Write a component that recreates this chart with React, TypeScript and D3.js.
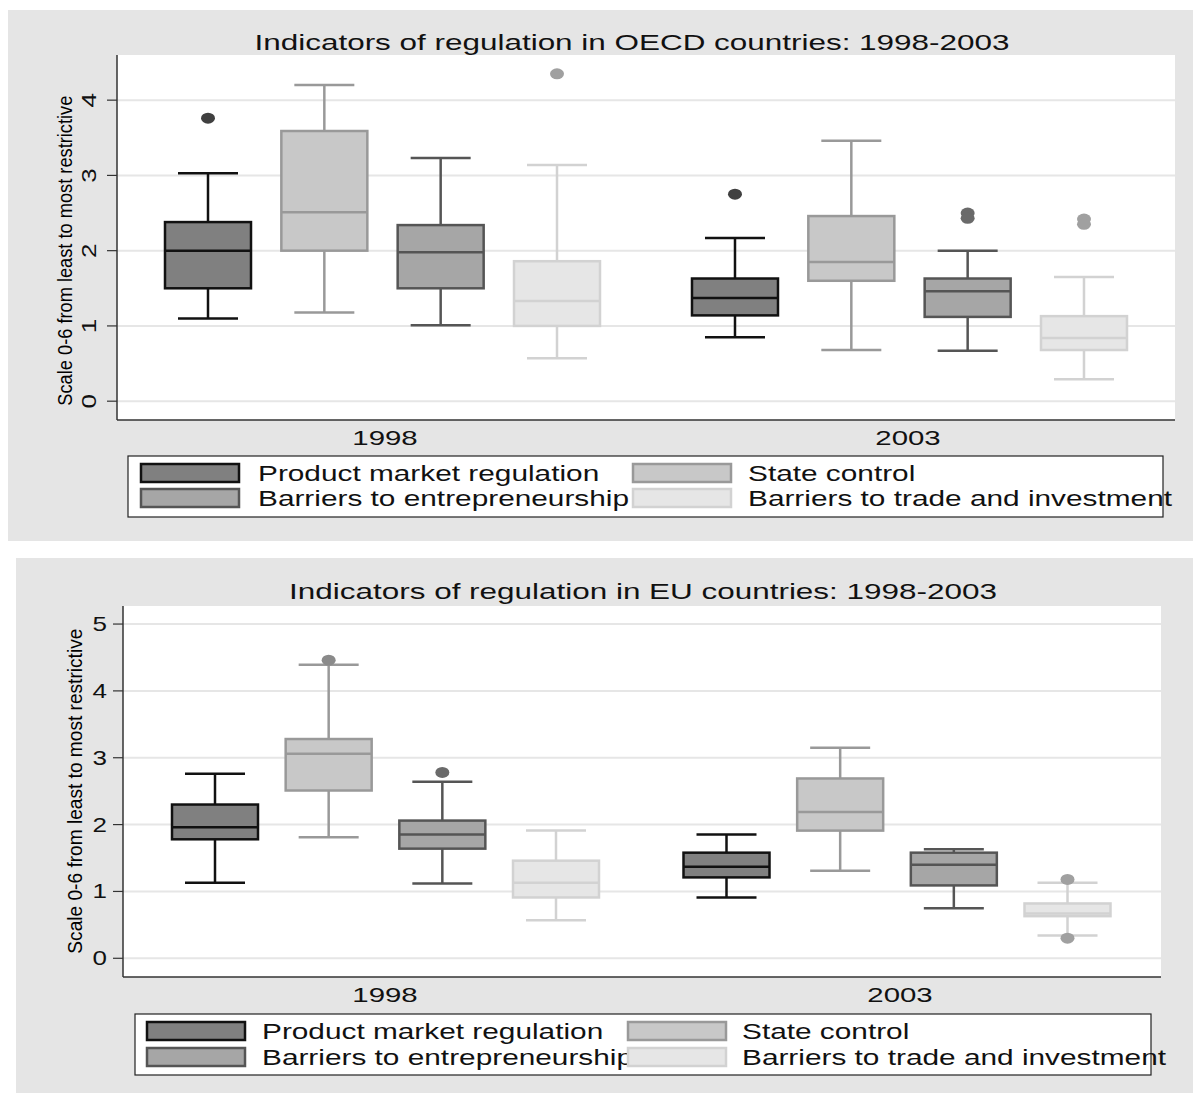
import React from "react";
import * as d3 from "d3";

const series = ["Product market regulation", "State control", "Barriers to entrepreneurship", "Barriers to trade and investment"];
const years = ["1998", "2003"];
const fills = ["#808080", "#c8c8c8", "#a6a6a6", "#e6e6e6"];
const strokes = ["#111111", "#999999", "#555555", "#d2d2d2"];
const dotColors = ["#404040", "#8a8a8a", "#6a6a6a", "#a0a0a0"];

// [low, q1, median, q3, high]
const oecd1998 = [[1.1, 1.5, 2.0, 2.38, 3.03], [1.18, 2.0, 2.51, 3.59, 4.2], [1.01, 1.5, 1.98, 2.34, 3.23], [0.57, 1.0, 1.33, 1.86, 3.14]];
const oecd2003 = [[0.85, 1.14, 1.37, 1.63, 2.17], [0.68, 1.6, 1.85, 2.46, 3.46], [0.67, 1.12, 1.46, 1.63, 2.0], [0.29, 0.68, 0.84, 1.13, 1.65]];
const oecdOut1998 = [[3.76], [], [], [4.35]];
const oecdOut2003 = [[2.75], [], [2.5, 2.43], [2.42, 2.35]];

const eu1998 = [[1.13, 1.78, 1.96, 2.3, 2.76], [1.81, 2.51, 3.06, 3.28, 4.39], [1.12, 1.64, 1.85, 2.06, 2.64], [0.57, 0.91, 1.13, 1.46, 1.91]];
const eu2003 = [[0.91, 1.21, 1.37, 1.58, 1.85], [1.31, 1.91, 2.19, 2.69, 3.15], [0.75, 1.09, 1.4, 1.58, 1.63], [0.34, 0.63, 0.67, 0.82, 1.13]];
const euOut1998 = [[], [4.46], [2.78], []];
const euOut2003 = [[], [], [], [1.18, 0.3]];

const oecdTicks = [0, 1, 2, 3, 4];
const euTicks = [0, 1, 2, 3, 4, 5];

const FONT = "'Liberation Sans', Arial, sans-serif";

function SText({ x, y, size, anchor = "start", sx = 1.4, rot = 0, children }: any) {
  return (
    <text transform={`translate(${x},${y}) rotate(${rot}) scale(${sx},1)`} textAnchor={anchor} fontSize={size} fontFamily={FONT} fill="#111">{children}</text>
  );
}

type PanelProps = {
  y0: number; y1: number; x0bg: number;
  title: string; titleY: number; titleX: number;
  left: number; right: number; top: number; bottom: number;
  domain: [number, number]; ticks: number[]; tickLabX: number; rotTicks: boolean;
  slotRange: [number, number]; gapIndex: number;
  stats: number[][][]; outs: number[][][];
  yearY: number; yearX: number[];
  legend: { x0: number; x1: number; y0: number; y1: number; sw: number[]; tx: number[]; rows: number[] };
  ylabX: number; ylabLen: number;
};

function Panel(p: PanelProps) {
  const y = d3.scaleLinear().domain(p.domain).range([p.bottom, p.top]);
  const x = d3.scaleLinear().domain([0, 3]).range(p.slotRange);
  const bw = 86, cap = 60;
  const ylabCenter = (y(0) + y(p.ticks[p.ticks.length - 1])) / 2;
  return (
    <g>
      <rect x={p.x0bg} y={p.y0} width={1193 - p.x0bg} height={p.y1 - p.y0} fill="#e5e5e5" />
      <rect x={p.left} y={p.top} width={p.right - p.left} height={p.bottom - p.top} fill="#fff" />
      <SText x={p.titleX} y={p.titleY} size={22} anchor="middle" sx={1.43}>{p.title}</SText>
      {p.ticks.map(t => (
        <g key={t}>
          <line x1={p.left} x2={p.right} y1={y(t)} y2={y(t)} stroke="#e6e6e6" strokeWidth={2} />
          <line x1={p.left - 10} x2={p.left} y1={y(t)} y2={y(t)} stroke="#333" strokeWidth={1.2} />
          {p.rotTicks
            ? <SText x={p.tickLabX} y={y(t)} size={20} anchor="middle" rot={-90} sx={1.3}>{t}</SText>
            : <SText x={p.tickLabX} y={y(t) + 7} size={20} anchor="end" sx={1.3}>{t}</SText>}
        </g>
      ))}
      <line x1={p.left} x2={p.left} y1={p.top} y2={p.bottom} stroke="#333" strokeWidth={1.5} />
      <line x1={p.left} x2={p.right} y1={p.bottom} y2={p.bottom} stroke="#333" strokeWidth={1.5} />
      <text transform={`translate(${p.ylabX},${ylabCenter}) rotate(-90)`} textAnchor="middle" fontSize={20} fontFamily={FONT}
        textLength={p.ylabLen} lengthAdjust="spacingAndGlyphs">Scale 0-6 from least to most restrictive</text>
      {p.stats.map((grp, gi) => grp.map((s, si) => {
        const cx = x(si + gi * p.gapIndex);
        const [lo, q1, md, q3, hi] = s;
        const st = strokes[si];
        return (
          <g key={`${gi}-${si}`}>
            <line x1={cx} x2={cx} y1={y(hi)} y2={y(q3)} stroke={st} strokeWidth={2.5} />
            <line x1={cx} x2={cx} y1={y(q1)} y2={y(lo)} stroke={st} strokeWidth={2.5} />
            <line x1={cx - cap / 2} x2={cx + cap / 2} y1={y(hi)} y2={y(hi)} stroke={st} strokeWidth={2.5} />
            <line x1={cx - cap / 2} x2={cx + cap / 2} y1={y(lo)} y2={y(lo)} stroke={st} strokeWidth={2.5} />
            <rect x={cx - bw / 2} y={y(q3)} width={bw} height={y(q1) - y(q3)} fill={fills[si]} stroke={st} strokeWidth={2.5} />
            <line x1={cx - bw / 2} x2={cx + bw / 2} y1={y(md)} y2={y(md)} stroke={st} strokeWidth={2.5} />
            {p.outs[gi][si].map((o, oi) => (
              <ellipse key={oi} cx={cx} cy={y(o)} rx={7} ry={5.5} fill={dotColors[si]} />
            ))}
          </g>
        );
      }))}
      {years.map((yr, i) => (
        <SText key={yr} x={p.yearX[i]} y={p.yearY} size={21} anchor="middle">{yr}</SText>
      ))}
      <rect x={p.legend.x0} y={p.legend.y0} width={p.legend.x1 - p.legend.x0} height={p.legend.y1 - p.legend.y0} fill="#fff" stroke="#222" strokeWidth={1.2} />
      {series.map((s, i) => {
        const col = i === 1 || i === 3 ? 1 : 0;
        const row = i >= 2 ? 1 : 0;
        const ry = p.legend.rows[row];
        return (
          <g key={s}>
            <rect x={p.legend.sw[col]} y={ry} width={98} height={18} fill={fills[i]} stroke={strokes[i]} strokeWidth={2.5} />
            <SText x={p.legend.tx[col]} y={ry + 17} size={22} sx={1.355}>{s}</SText>
          </g>
        );
      })}
    </g>
  );
}

export default function App() {
  return (
    <svg width={1193} height={1095} style={{ position: "absolute", left: 0, top: 0 }}>
      <rect width={1193} height={1095} fill="#fff" />
      <Panel y0={10} y1={541} x0bg={8} title="Indicators of regulation in OECD countries: 1998-2003" titleY={50} titleX={632}
        left={117} right={1175} top={55} bottom={420} domain={[-0.25, 4.6]} ticks={oecdTicks} tickLabX={96} rotTicks={true}
        slotRange={[208, 557]} gapIndex={4.53} stats={[oecd1998, oecd2003]} outs={[oecdOut1998, oecdOut2003]}
        yearY={445} yearX={[385, 908]}
        legend={{ x0: 128, x1: 1163, y0: 456, y1: 517, sw: [141, 633], tx: [258, 748], rows: [464, 489] }}
        ylabX={72} ylabLen={310} />
      <Panel y0={558} y1={1093} x0bg={16} title="Indicators of regulation in EU countries: 1998-2003" titleY={599} titleX={643}
        left={123} right={1161} top={606} bottom={977} domain={[-0.28, 5.27]} ticks={euTicks} tickLabX={107} rotTicks={false}
        slotRange={[215, 556]} gapIndex={4.5} stats={[eu1998, eu2003]} outs={[euOut1998, euOut2003]}
        yearY={1002} yearX={[385, 900]}
        legend={{ x0: 135, x1: 1151, y0: 1014, y1: 1075, sw: [147, 628], tx: [262, 742], rows: [1022, 1048] }}
        ylabX={82} ylabLen={325} />
    </svg>
  );
}
